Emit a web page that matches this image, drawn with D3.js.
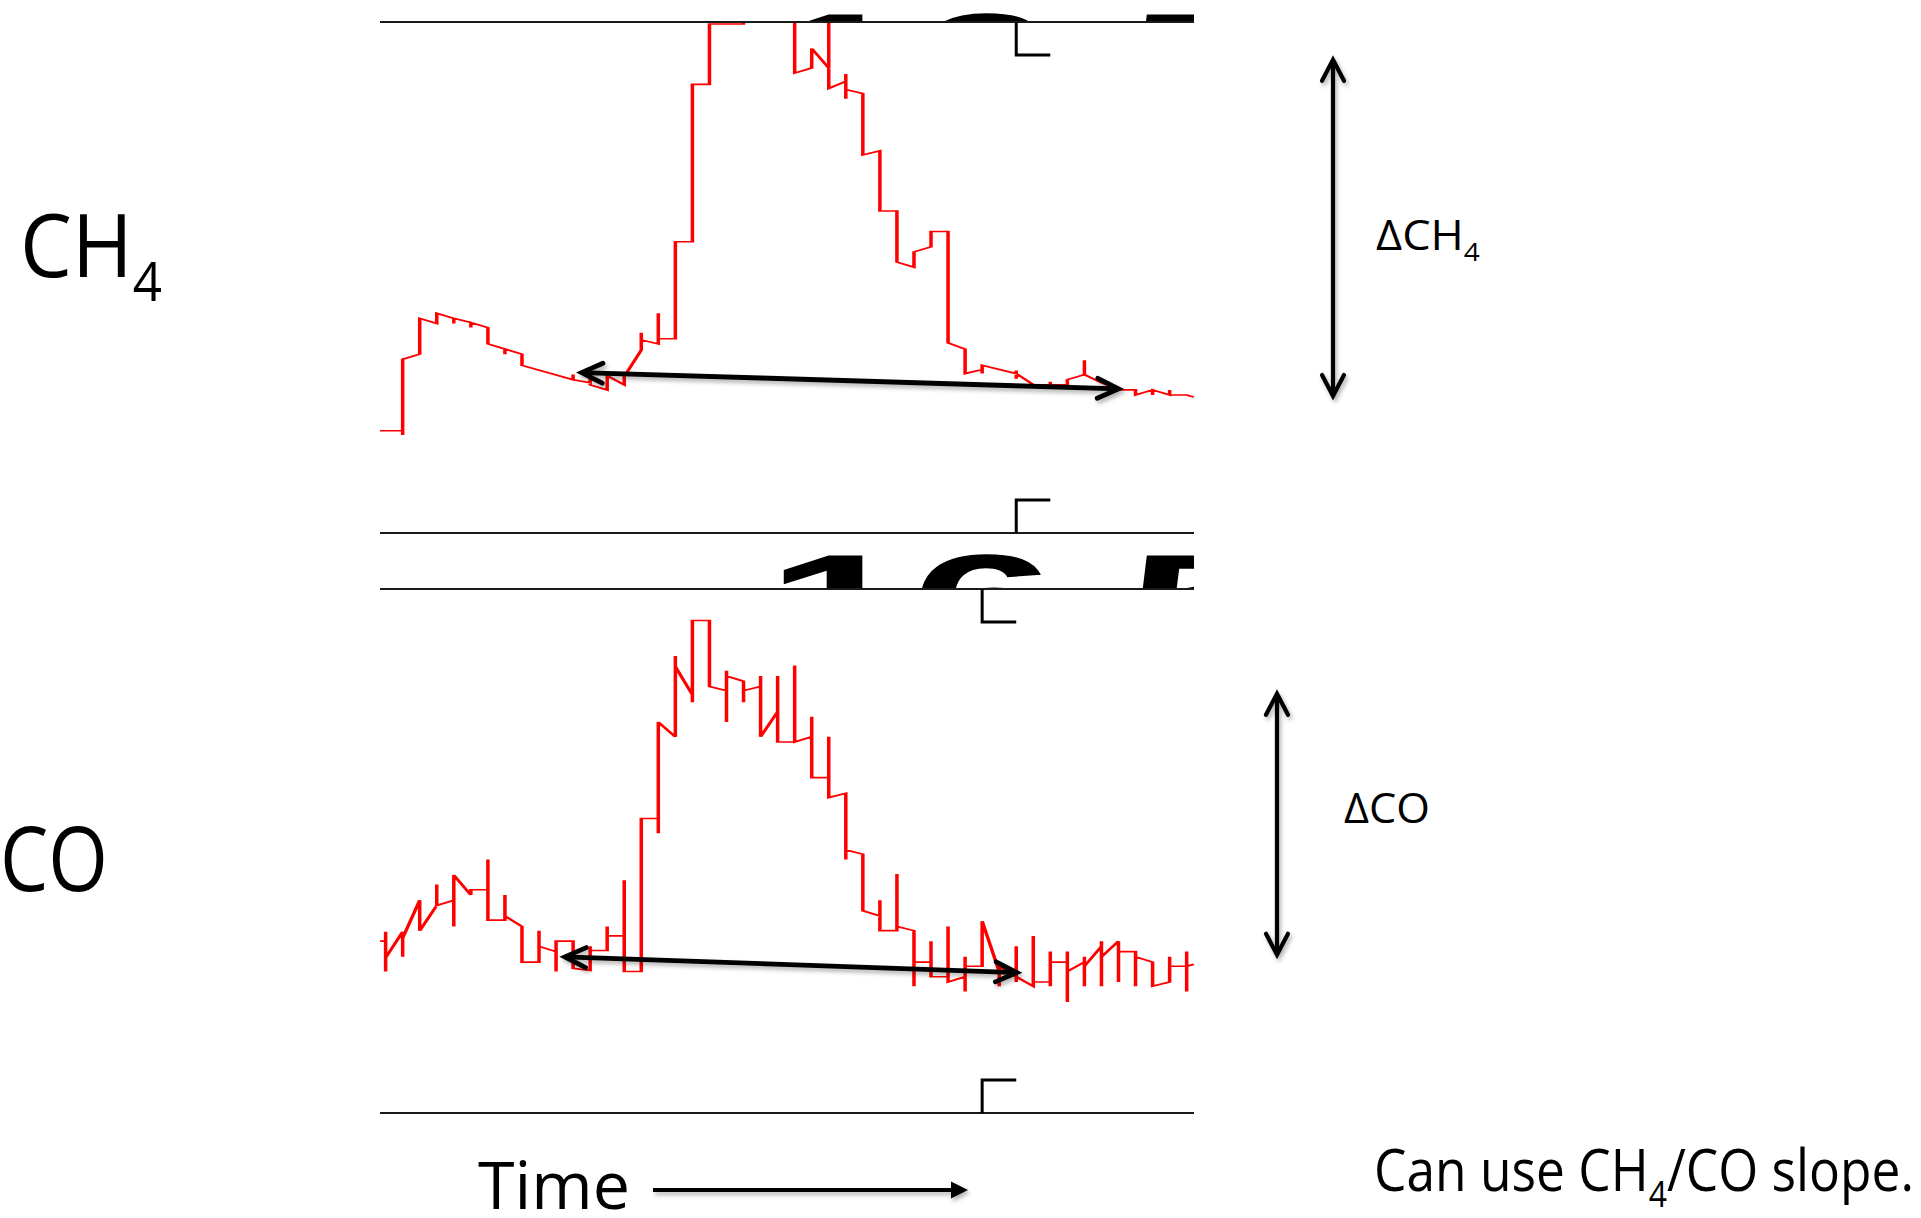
<!DOCTYPE html>
<html><head><meta charset="utf-8">
<script src="https://cdn.jsdelivr.net/npm/d3@7"></script>
<style>html,body{margin:0;padding:0;background:#fff;}svg{display:block}</style>
</head><body>
<svg id="chart" width="1921" height="1218"></svg>
<script>
// ---------------- DATA ----------------
const timeDomain = [-0.33, 47.43];          // time (sample index)
const ch4Domain = [1800, 2300];             // CH4 (ppb)
const coDomain = [100, 600];                // CO (ppb)

const ch4Time = [-0.33,1,1,1,2,2,3,3,4,4,4,5,5,5,6,6,7,7,7,8,8,11,11,11,12,12,12,13,13,14,14,15,15,15,16,16,16,17,17,18,18,19,19,21,21,24,24,25,25,26,26,26,27,27,27,27,28,28,29,29,30,30,31,31,32,32,33,33,34,34,35,35,35,37,37,37,37,38,39,39,39,40,40,41,41,41,42,43,44,44,45,45,45,46,46,46,47,47.43];
const ch4Value = [1900,1900,1896,1970,1975,2010,2005,2015,2010,2005,2010,2006,2001,2006,2001,1985,1980,1975,1980,1975,1964,1950,1955,1950,1947,1952,1945,1940,1954,1945,1953,1979,1996,1989,1985,2015,1990,1990,2085,2085,2239,2239,2298,2298,2340,2340,2250,2255,2274,2255,2340,2235,2242,2249,2225,2234,2230,2170,2174,2115,2115,2065,2060,2075,2080,2095,2095,1986,1980,1956,1960,1956,1964,1956,1959,1951,1956,1945,1945,1948,1945,1945,1950,1955,1969,1955,1947,1940,1940,1935,1940,1935,1940,1935,1940,1935,1935,1933];

const coTime = [-0.33,0,0,0,0,1,1,1,2,2,3,3,3,4,4,4,5,5,6,6,6,7,7,7,8,8,9,9,9,10,10,10,11,11,12,12,12,13,13,13,14,14,14,15,15,16,16,16,17,17,17,18,18,18,19,19,20,20,20,20,21,21,21,22,22,22,23,23,23,24,24,24,25,25,25,26,26,26,27,27,27,28,28,29,29,29,30,30,30,31,31,31,32,32,32,33,33,33,34,34,34,34,35,35,36,36,36,37,37,37,37,38,38,38,39,39,39,39,40,40,40,40,41,41,41,41,42,42,42,42,43,43,43,44,44,44,45,45,46,46,46,47,47,47,47,47.43];
const coValue = [264,264,273,235,248,273,249,267,303,274,298,318,298,303,278,327,308,313,313,342,284,284,308,288,278,244,244,274,259,254,235,264,264,238,236,259,255,255,278,269,269,322,235,235,381,381,367,473,459,536,526,499,492,570,570,507,503,522,473,517,512,492,503,507,517,459,483,517,454,454,527,454,459,478,420,420,459,401,405,342,351,347,293,288,303,274,274,328,278,274,221,244,244,264,230,230,278,225,230,249,216,240,240,283,235,221,240,230,259,225,230,221,269,225,225,254,221,244,244,254,206,235,244,249,221,240,259,264,221,249,264,225,254,254,221,249,244,221,225,249,240,240,254,216,240,242];

// annotation arrows (time, value)
const ch4TrendTime = [11.5, 43.0];
const ch4TrendValue = [1957, 1941];
const coTrendTime = [10.52, 37.03];
const coTrendValue = [249, 234];
const ch4DeltaValue = [2263, 1934];
const coDeltaValue = [500, 251];
const markerTime = {ch4: 37, co: 35};
const tickLabel = "16.5";

// ---------------- LAYOUT ----------------
const W = 1921, H = 1218;
const plotLeft = 380, plotRight = 1194;
const ch4Top = 22, ch4Bottom = 533, coTop = 589, coBottom = 1113;
const stretch = 2.2;

const svg = d3.select("#chart");
svg.append("rect").attr("width", W).attr("height", H).attr("fill", "#fff");
const defs = svg.append("defs");
defs.append("filter").attr("id", "shadow").attr("filterUnits", "userSpaceOnUse")
  .attr("x", 0).attr("y", 0).attr("width", W).attr("height", H)
  .append("feDropShadow").attr("dx", 2).attr("dy", 3).attr("stdDeviation", 2)
  .attr("flood-color", "#000").attr("flood-opacity", 0.3);

function clip(id, x0, y0, x1, y1) {
  defs.append("clipPath").attr("id", id).append("rect")
    .attr("x", x0).attr("y", y0).attr("width", x1 - x0).attr("height", y1 - y0);
}
clip("clipCH4", plotLeft, ch4Top - 1, plotRight, ch4Bottom);
clip("clipCO", plotLeft, coTop, plotRight, coBottom);
clip("clipBand", plotLeft, ch4Bottom, plotRight, coTop);
clip("clipTopBand", plotLeft, 0, plotRight, ch4Top);

const x = d3.scaleLinear().domain(timeDomain).range([plotLeft, plotRight]);
const xs = d3.scaleLinear().domain(timeDomain).range([plotLeft / stretch, plotRight / stretch]);
const yCH4 = d3.scaleLinear().domain(ch4Domain).range([ch4Bottom, ch4Top]);
const yCO = d3.scaleLinear().domain(coDomain).range([coBottom, coTop]);

// ---- big clipped tick label digits ----
function digits(clipId, baseline) {
  svg.append("g").attr("clip-path", `url(#${clipId})`)
    .append("text").text(tickLabel)
    .attr("font-family", "'Liberation Sans', Arial, sans-serif")
    .attr("font-weight", "bold")
    .attr("font-size", 130).attr("fill", "#000")
    .attr("transform", `translate(766,${baseline}) scale(2.0,1)`);
}
digits("clipTopBand", 104);
digits("clipBand", 645);

// ---- red series (non-uniformly stretched like the source) ----
function series(times, values, yScale, clipId) {
  const pts = times.map((t, i) => ({t, v: values[i]}));
  const line = d3.line().x(d => xs(d.t)).y(d => yScale(d.v));
  svg.append("g").attr("clip-path", `url(#${clipId})`)
    .append("g").attr("transform", `scale(${stretch},1)`)
    .append("path").datum(pts).attr("d", line)
    .attr("fill", "none").attr("stroke", "#ff0000").attr("stroke-width", 1.6)
    .attr("stroke-linejoin", "miter");
}
series(ch4Time, ch4Value, yCH4, "clipCH4");
series(coTime, coValue, yCO, "clipCO");

// ---- frame lines ----
[ch4Top, ch4Bottom, coTop, coBottom].forEach(y => {
  svg.append("line").attr("x1", plotLeft).attr("x2", plotRight).attr("y1", y).attr("y2", y)
    .attr("stroke", "#1a1a1a").attr("stroke-width", 2);
});

// ---- brackets ----
function bracket(t, yEdge, dir) {
  const x0 = x(t), x1 = x(t + 2);
  const yEnd = yEdge + dir * 33;
  svg.append("path").attr("d", `M${x0},${yEdge}V${yEnd}H${x1}`)
    .attr("fill", "none").attr("stroke", "#000").attr("stroke-width", 3);
}
bracket(markerTime.ch4, ch4Top, 1);
bracket(markerTime.ch4, ch4Bottom, -1);
bracket(markerTime.co, coTop, 1);
bracket(markerTime.co, coBottom, -1);

// ---- arrows ----
function doubleArrow(p1, p2, head, half, w) {
  const g = svg.append("g").attr("filter", "url(#shadow)");
  g.append("line").attr("x1", p1[0]).attr("y1", p1[1]).attr("x2", p2[0]).attr("y2", p2[1])
    .attr("stroke", "#000").attr("stroke-width", w);
  [[p1, p2], [p2, p1]].forEach(([tip, other]) => {
    const dx = tip[0] - other[0], dy = tip[1] - other[1];
    const L = Math.hypot(dx, dy), ux = dx / L, uy = dy / L;
    const nx = -uy, ny = ux;
    const bx = tip[0] - ux * head, by = tip[1] - uy * head;
    g.append("path")
      .attr("d", `M${bx + nx * half},${by + ny * half}L${tip[0]},${tip[1]}L${bx - nx * half},${by - ny * half}`)
      .attr("fill", "none").attr("stroke", "#000").attr("stroke-width", w)
      .attr("stroke-linecap", "round").attr("stroke-linejoin", "miter");
  });
}
doubleArrow([x(ch4TrendTime[0]), yCH4(ch4TrendValue[0])], [x(ch4TrendTime[1]), yCH4(ch4TrendValue[1])], 21, 10, 4.8);
doubleArrow([x(coTrendTime[0]), yCO(coTrendValue[0])], [x(coTrendTime[1]), yCO(coTrendValue[1])], 21, 10, 4.8);
doubleArrow([1333, yCH4(ch4DeltaValue[0])], [1333, yCH4(ch4DeltaValue[1])], 21, 11, 4.2);
doubleArrow([1277, yCO(coDeltaValue[0])], [1277, yCO(coDeltaValue[1])], 21, 11, 4.2);

// time arrow
const tg = svg.append("g").attr("filter", "url(#shadow)");
tg.append("line").attr("x1", 653).attr("x2", 956).attr("y1", 1190).attr("y2", 1190)
  .attr("stroke", "#000").attr("stroke-width", 4);
tg.append("path").attr("d", "M951,1181.5L968,1190L951,1198.5Z").attr("fill", "#000");

// ---- labels ----
function richText(parts, size, xPos, baseline, targetW) {
  const t = svg.append("text").attr("font-family", "'Open Sans', sans-serif")
    .attr("font-size", size).attr("fill", "#000");
  let prevSub = false;
  parts.forEach(p => {
    const ts = t.append("tspan").text(p.s);
    if (p.sub) { ts.attr("font-size", size * 0.62).attr("dy", size * 0.27); }
    else if (prevSub) { ts.attr("dy", -size * 0.27); }
    prevSub = !!p.sub;
  });
  const w = t.node().getBBox().width;
  t.attr("transform", `translate(${xPos},${baseline}) scale(${targetW / w},1)`);
}
richText([{s: "CH"}, {s: "4", sub: true}], 88, 20, 277, 142);
richText([{s: "CO"}], 89, 0, 891, 108);
richText([{s: "\u0394CH"}, {s: "4", sub: true}], 42, 1376, 250, 104);
richText([{s: "\u0394CO"}], 42, 1344, 823, 86);
richText([{s: "Time"}], 66, 478, 1209, 152);
richText([{s: "Can use CH"}, {s: "4", sub: true}, {s: "/CO slope."}], 59, 1374, 1191, 540);
</script>
</body></html>
